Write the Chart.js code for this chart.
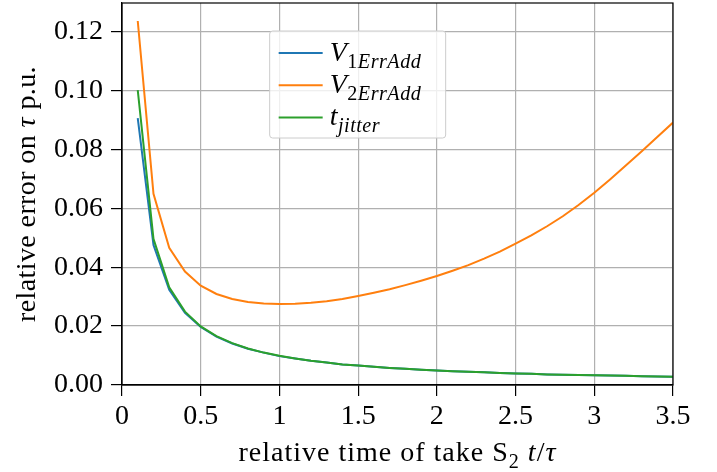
<!DOCTYPE html>
<html>
<head>
<meta charset="utf-8">
<script src="https://cdn.jsdelivr.net/npm/chart.js@4/dist/chart.umd.min.js"></script>
<style>
  html, body { margin: 0; padding: 0; background: #fff; }
  #wrap { width: 717px; height: 472px; }
</style>
</head>
<body>
<div id="wrap"><canvas id="c"></canvas></div>
<script>
// relative time t/tau
const tValues = [0.1, 0.2, 0.3, 0.4, 0.5, 0.6, 0.7, 0.8, 0.9, 1.0,
  1.1, 1.2, 1.3, 1.4, 1.5, 1.6, 1.7, 1.8, 1.9, 2.0,
  2.1, 2.2, 2.3, 2.4, 2.5, 2.6, 2.7, 2.8, 2.9, 3.0,
  3.1, 3.2, 3.3, 3.4, 3.5];

const v1ErrAdd = [0.0906, 0.0475, 0.0323, 0.0245, 0.0197, 0.0164, 0.0141, 0.0123, 0.0110, 0.0098,
  0.0090, 0.0082, 0.0076, 0.0070, 0.0066, 0.0062, 0.0058, 0.0055, 0.0052, 0.0049,
  0.0047, 0.0045, 0.0043, 0.0041, 0.0039, 0.0038, 0.0036, 0.0035, 0.0034, 0.0033,
  0.0032, 0.0031, 0.0030, 0.0029, 0.0028];

const v2ErrAdd = [0.1236, 0.0649, 0.0466, 0.0385, 0.0337, 0.0309, 0.0292, 0.0282, 0.0277, 0.0275,
  0.0276, 0.0279, 0.0284, 0.0292, 0.0302, 0.0313, 0.0325, 0.0339, 0.0354, 0.0370,
  0.0388, 0.0407, 0.0429, 0.0453, 0.0480, 0.0508, 0.0539, 0.0573, 0.0611, 0.0653,
  0.0698, 0.0745, 0.0793, 0.0842, 0.0891];

const tJitter = [0.1001, 0.0496, 0.0332, 0.0249, 0.0199, 0.0166, 0.0142, 0.0124, 0.0110, 0.0099,
  0.0090, 0.0082, 0.0076, 0.0070, 0.0066, 0.0062, 0.0058, 0.0055, 0.0052, 0.0049,
  0.0047, 0.0045, 0.0043, 0.0041, 0.0039, 0.0038, 0.0036, 0.0035, 0.0034, 0.0033,
  0.0032, 0.0031, 0.0030, 0.0029, 0.0028];

const xTicks = [0, 0.5, 1, 1.5, 2, 2.5, 3, 3.5];
const yTicks = [0, 0.02, 0.04, 0.06, 0.08, 0.1, 0.12];

const FONT = '"Liberation Serif", "DejaVu Serif", serif';
const SIZE = 28;

// draws a run of text pieces, some italic, some subscript
function drawRich(ctx, parts, x, y, size, align, spacing) {
  ctx.letterSpacing = (spacing || 0) + 'px';
  const segs = parts.map(p => {
    const fs = p.sub ? size * 0.72 : size;
    const font = (p.it ? 'italic ' : '') + fs + 'px ' + FONT;
    ctx.font = font;
    return { t: p.t, font, w: ctx.measureText(p.t).width, dy: p.sub ? size * 0.24 : 0 };
  });
  const total = segs.reduce((a, s) => a + s.w, 0);
  let cx = align === 'center' ? x - total / 2 : x;
  ctx.textAlign = 'left';
  ctx.textBaseline = 'alphabetic';
  segs.forEach(s => {
    ctx.font = s.font;
    ctx.fillText(s.t, cx, y + s.dy);
    cx += s.w;
  });
  ctx.letterSpacing = '0px';
}

const legendItems = [
  { color: '#1f77b4', parts: [{ t: 'V', it: true }, { t: '1', sub: true }, { t: 'ErrAdd', it: true, sub: true }] },
  { color: '#ff7f0e', parts: [{ t: 'V', it: true }, { t: '2', sub: true }, { t: 'ErrAdd', it: true, sub: true }] },
  { color: '#2ca02c', parts: [{ t: 't', it: true }, { t: 'jitter', it: true, sub: true }] },
];

const decorPlugin = {
  id: 'decor',
  afterDatasetsDraw(chart) {
    const ctx = chart.ctx;
    const ca = chart.chartArea;
    ctx.save();
    // frame
    ctx.strokeStyle = '#000';
    ctx.lineWidth = 1.2;
    ctx.strokeRect(ca.left, ca.top, ca.right - ca.left, ca.bottom - ca.top);

    // legend
    const lx = ca.left + (ca.right - ca.left) * 0.268;
    const ly = ca.top + 28;
    const lw = 176, lh = 107;
    ctx.beginPath();
    ctx.roundRect(lx, ly, lw, lh, 3);
    ctx.fillStyle = 'rgba(255,255,255,0.8)';
    ctx.fill();
    ctx.strokeStyle = '#cccccc';
    ctx.lineWidth = 1;
    ctx.stroke();
    legendItems.forEach((it, i) => {
      const yy = ly + 22 + i * 32.2;
      ctx.strokeStyle = it.color;
      ctx.lineWidth = 2;
      ctx.beginPath();
      ctx.moveTo(lx + 9, yy);
      ctx.lineTo(lx + 53, yy);
      ctx.stroke();
      ctx.fillStyle = '#000';
      drawRich(ctx, it.parts, lx + 60, yy + 8, SIZE, 'left', 0.5);
    });

    // axis titles
    ctx.fillStyle = '#000';
    drawRich(ctx, [
      { t: 'relative time of take S' }, { t: '2', sub: true }, { t: ' ' },
      { t: 't', it: true }, { t: '/' }, { t: 'τ', it: true },
    ], (ca.left + ca.right) / 2, 461, SIZE, 'center', 1);

    ctx.translate(35, (ca.top + ca.bottom) / 2);
    ctx.rotate(-Math.PI / 2);
    drawRich(ctx, [
      { t: 'relative error on ' }, { t: 'τ', it: true }, { t: ' p.u.' },
    ], 0, 0, SIZE, 'center', 0.4);
    ctx.restore();
  }
};

const toPoints = ys => tValues.map((x, i) => ({ x, y: ys[i] }));

new Chart(document.getElementById('c'), {
  type: 'line',
  data: {
    datasets: [
      { label: 'V1ErrAdd', data: toPoints(v1ErrAdd), borderColor: '#1f77b4', order: 2 },
      { label: 'V2ErrAdd', data: toPoints(v2ErrAdd), borderColor: '#ff7f0e', order: 1 },
      { label: 'tjitter', data: toPoints(tJitter), borderColor: '#2ca02c', order: 0 },
    ],
  },
  options: {
    responsive: true,
    maintainAspectRatio: false,
    animation: false,
    layout: { padding: { top: 3, right: 44, left: 0, bottom: 0 } },
    elements: {
      point: { radius: 0 },
      line: { borderWidth: 2, tension: 0, fill: false },
    },
    plugins: {
      legend: { display: false },
      tooltip: { enabled: false },
    },
    scales: {
      x: {
        type: 'linear',
        min: 0,
        max: 3.5,
        afterBuildTicks: ax => { ax.ticks = xTicks.map(v => ({ value: v })); },
        afterFit: ax => { ax.height = 87; ax.paddingLeft = 0; ax.paddingRight = 0; },
        ticks: {
          color: '#000',
          font: { family: FONT, size: SIZE },
          padding: 4,
          maxRotation: 0,
          callback: v => String(v),
        },
        grid: { color: '#b0b0b0', lineWidth: 1.2, tickColor: '#000', tickLength: 11, tickWidth: 1.2 },
        border: { color: '#000', width: 1.2 },
      },
      y: {
        min: 0,
        max: 0.1297,
        afterBuildTicks: ax => { ax.ticks = yTicks.map(v => ({ value: v })); },
        afterFit: ax => { ax.width = 122; ax.paddingTop = 0; ax.paddingBottom = 0; },
        ticks: {
          color: '#000',
          font: { family: FONT, size: SIZE },
          padding: 8,
          callback: v => v.toFixed(2),
        },
        grid: { color: '#b0b0b0', lineWidth: 1.2, tickColor: '#000', tickLength: 11, tickWidth: 1.2 },
        border: { color: '#000', width: 1.2 },
      },
    },
  },
  plugins: [decorPlugin],
});
</script>
</body>
</html>
